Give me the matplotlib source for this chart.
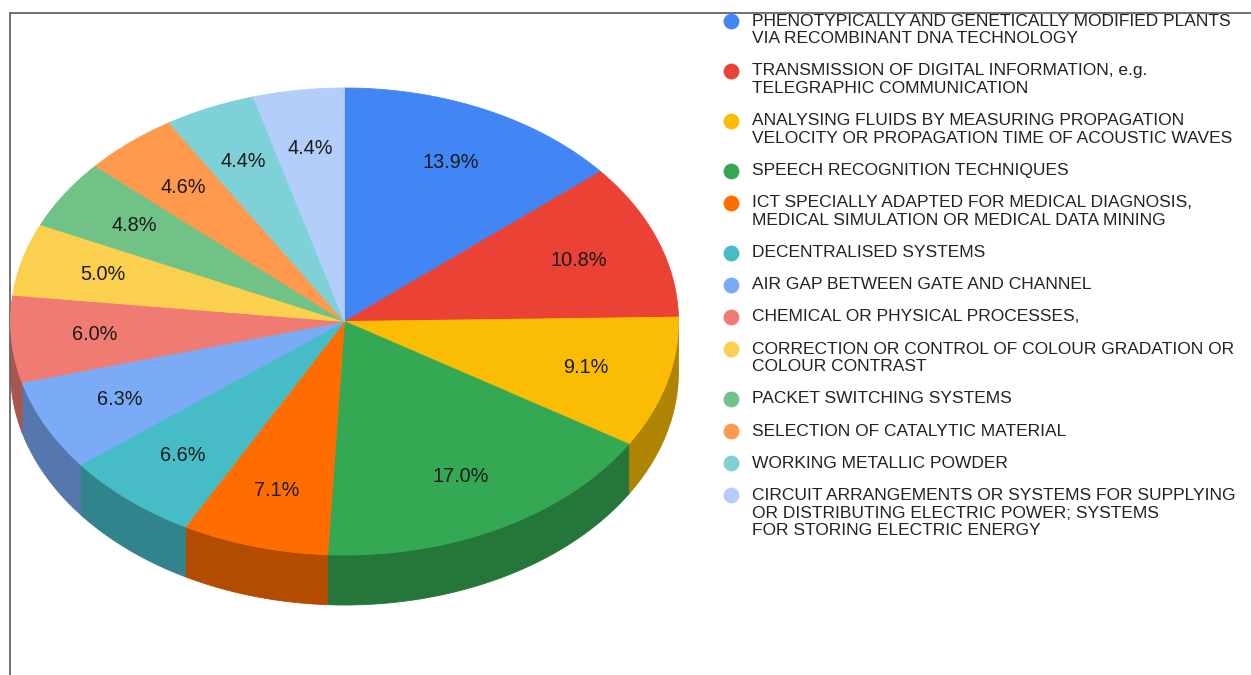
import numpy as np
import matplotlib
matplotlib.use("Agg")
import matplotlib.pyplot as plt
from matplotlib.colors import to_rgb

plt.rcParams["font.family"] = ["Liberation Sans", "DejaVu Sans"]

categories = [
    "PHENOTYPICALLY AND GENETICALLY MODIFIED PLANTS\nVIA RECOMBINANT DNA TECHNOLOGY",
    "TRANSMISSION OF DIGITAL INFORMATION, e.g.\nTELEGRAPHIC COMMUNICATION",
    "ANALYSING FLUIDS BY MEASURING PROPAGATION\nVELOCITY OR PROPAGATION TIME OF ACOUSTIC WAVES",
    "SPEECH RECOGNITION TECHNIQUES",
    "ICT SPECIALLY ADAPTED FOR MEDICAL DIAGNOSIS,\nMEDICAL SIMULATION OR MEDICAL DATA MINING",
    "DECENTRALISED SYSTEMS",
    "AIR GAP BETWEEN GATE AND CHANNEL",
    "CHEMICAL OR PHYSICAL PROCESSES,",
    "CORRECTION OR CONTROL OF COLOUR GRADATION OR\nCOLOUR CONTRAST",
    "PACKET SWITCHING SYSTEMS",
    "SELECTION OF CATALYTIC MATERIAL",
    "WORKING METALLIC POWDER",
    "CIRCUIT ARRANGEMENTS OR SYSTEMS FOR SUPPLYING\nOR DISTRIBUTING ELECTRIC POWER; SYSTEMS\nFOR STORING ELECTRIC ENERGY",
]
shares = [13.9, 10.8, 9.1, 17.0, 7.1, 6.6, 6.3, 6.0, 5.0, 4.8, 4.6, 4.4, 4.4]
colors = ["#4285F4", "#EA4335", "#FBBC04", "#34A853", "#FF6D01", "#46BDC6",
          "#7BAAF7", "#F07B72", "#FCD04F", "#71C287", "#FF994D", "#7ED1D7",
          "#B3CEFB"]

# pie geometry (pixels)
cx, cy, rx, ry, depth = 344.5, 321.5, 334, 233.5, 50


def ellipse_pts(a0, a1, n=200):
    t = np.linspace(a0, a1, n)
    return cx + rx * np.sin(t), cy - ry * np.cos(t)


def darker(c, f=0.7):
    return tuple(v * f for v in to_rgb(c))


fig = plt.figure(figsize=(12.51, 6.75), dpi=100)
ax = fig.add_axes([0, 0, 1, 1])
ax.set_xlim(0, 1251)
ax.set_ylim(675, 0)
ax.axis("off")

# frame
ax.plot([10, 10, 1260], [680, 13, 13], color="#666666", lw=1.3, solid_joinstyle="miter")

fr = np.array(shares) / sum(shares)
ends = np.cumsum(fr) * 2 * np.pi
starts = ends - fr * 2 * np.pi

# side walls (front half only)
for a0, a1, c in zip(starts, ends, colors):
    lo, hi = max(a0, np.pi / 2), min(a1, 3 * np.pi / 2)
    if hi <= lo:
        continue
    x, y = ellipse_pts(lo, hi)
    px = np.concatenate([x, x[::-1]])
    py = np.concatenate([y, y[::-1] + depth])
    d = darker(c)
    ax.fill(px, py, color=d, ec=d, lw=0.6, zorder=1)

# top faces
for a0, a1, c in zip(starts, ends, colors):
    x, y = ellipse_pts(a0, a1)
    ax.fill(np.r_[cx, x], np.r_[cy, y], color=c, ec=c, lw=0.6, zorder=2)

# percentage labels
for a0, a1, v in zip(starts, ends, shares):
    m = (a0 + a1) / 2
    ax.text(cx + 0.75 * rx * np.sin(m), cy - 0.75 * ry * np.cos(m), f"{v:.1f}%",
            ha="center", va="center", fontsize=14.3, color="#1a1a1a", zorder=3)

# legend
y = 21
for lab, c in zip(categories, colors):
    lines = lab.split("\n")
    ax.scatter([731], [y], s=130, color=c, zorder=3, lw=0)
    for k, ln in enumerate(lines):
        ax.text(752, y + k * 17.8, ln, ha="left", va="center",
                fontsize=12.5, color="#222222")
    y += len(lines) * 17.8 + 14.3

fig.savefig("out.png", dpi=100)
